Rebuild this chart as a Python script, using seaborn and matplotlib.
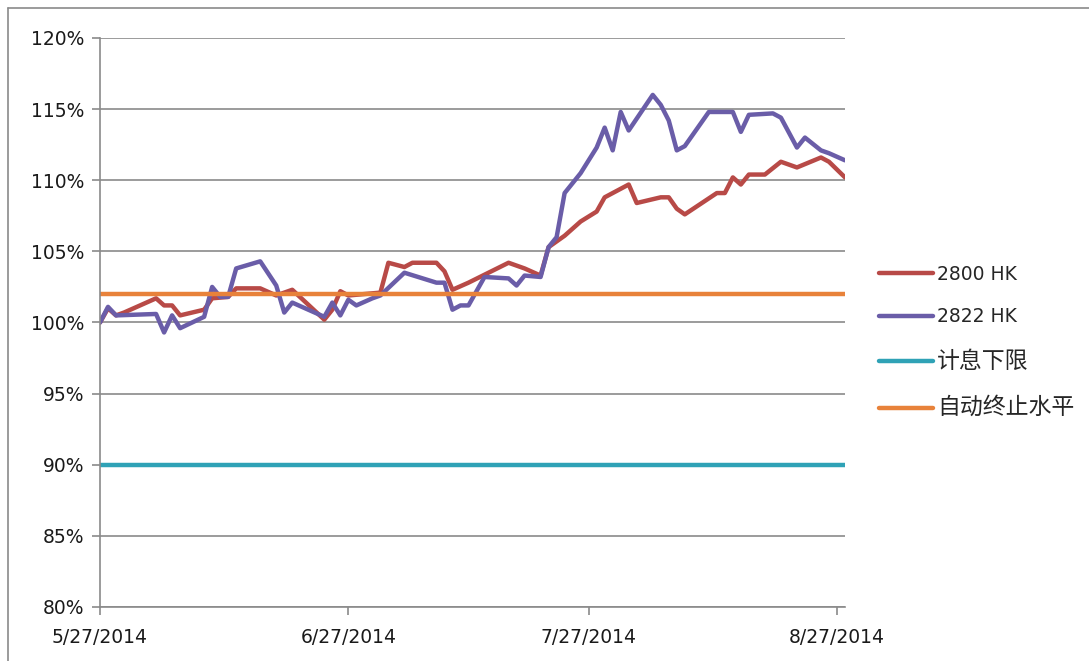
import pandas as pd
import matplotlib
matplotlib.use("Agg")
import matplotlib.pyplot as plt
from matplotlib.lines import Line2D
from matplotlib.ticker import PercentFormatter
import seaborn as sns

START = pd.Timestamp("2014-05-27")
END = pd.Timestamp("2014-08-28")

# days after 5/27/2014 and index level (%)
hk2800_days = [0, 1, 2, 3, 7, 8, 9, 10, 13, 14, 16, 17, 20, 22, 24, 28, 29, 30, 31,
               35, 36, 38, 39, 42, 43, 44, 46, 51, 53, 55, 56, 58, 60, 62, 63, 66,
               67, 70, 71, 72, 73, 77, 78, 79, 80, 81, 83, 85, 87, 90, 91, 93]
hk2800_vals = [100.0, 101.0, 100.5, 100.7, 101.7, 101.2, 101.2, 100.5, 100.9, 101.7,
               101.8, 102.4, 102.4, 101.9, 102.3, 100.2, 100.9, 102.2, 101.9,
               102.1, 104.2, 103.9, 104.2, 104.2, 103.6, 102.3, 102.8, 104.2, 103.8,
               103.3, 105.3, 106.1, 107.1, 107.8, 108.8, 109.7, 108.4, 108.8, 108.8,
               108.0, 107.6, 109.1, 109.1, 110.2, 109.7, 110.4, 110.4, 111.3, 110.9,
               111.6, 111.3, 110.2]

hk2822_days = [0, 1, 2, 7, 8, 9, 10, 13, 14, 15, 16, 17, 20, 22, 23, 24, 28, 29, 30,
               31, 32, 34, 35, 38, 42, 43, 44, 45, 46, 48, 51, 52, 53, 55, 56, 57,
               58, 60, 62, 63, 64, 65, 66, 69, 70, 71, 72, 73, 76, 79, 80, 81, 84,
               85, 87, 88, 90, 91, 93]
hk2822_vals = [100.0, 101.1, 100.5, 100.6, 99.3, 100.5, 99.6, 100.4, 102.5, 101.8,
               101.8, 103.8, 104.3, 102.6, 100.7, 101.4, 100.4, 101.4, 100.5,
               101.6, 101.2, 101.7, 101.9, 103.5, 102.8, 102.8, 100.9, 101.2, 101.2,
               103.2, 103.1, 102.6, 103.3, 103.2, 105.3, 106.0, 109.1, 110.5, 112.3,
               113.7, 112.1, 114.8, 113.5, 116.0, 115.3, 114.2, 112.1, 112.4, 114.8,
               114.8, 113.4, 114.6, 114.7, 114.4, 112.3, 113.0, 112.1, 111.9, 111.4]

coupon_floor = 90      # 计息下限
autocall_level = 102   # 自动终止水平

x_ticks = ["2014-05-27", "2014-06-27", "2014-07-27", "2014-08-27"]
x_tick_labels = ["5/27/2014", "6/27/2014", "7/27/2014", "8/27/2014"]

sns.set_style("white")
plt.rcParams["font.family"] = ["DejaVu Sans", "Noto Sans CJK SC"]

grey = "#8a8a8a"
fig = plt.figure(figsize=(10.89, 6.61), dpi=100)
ax = fig.add_axes([100 / 1089, 54 / 661, 745 / 1089, 569 / 661])

d2800 = START + pd.to_timedelta(hk2800_days, unit="D")
d2822 = START + pd.to_timedelta(hk2822_days, unit="D")
span = [START, END]

sns.lineplot(x=d2800, y=hk2800_vals, ax=ax, color="#B84A47", lw=3.2, label="2800 HK")
sns.lineplot(x=d2822, y=hk2822_vals, ax=ax, color="#6A5DA8", lw=3.2, label="2822 HK")
sns.lineplot(x=span, y=[coupon_floor] * 2, ax=ax, color="#2FA2B6", lw=3.2, label="计息下限")
sns.lineplot(x=span, y=[autocall_level] * 2, ax=ax, color="#E8823A", lw=3.2,
             label="自动终止水平")

ax.set_xlim(START, END)
ax.set_ylim(80, 120)
ax.set_yticks(range(80, 121, 5))
ax.yaxis.set_major_formatter(PercentFormatter(xmax=100, decimals=0))
ax.set_xticks(pd.to_datetime(x_ticks))
ax.set_xticklabels(x_tick_labels)
ax.set_xlabel("")
ax.set_ylabel("")

ax.grid(axis="y", color=grey, lw=1.2)
ax.set_axisbelow(True)
for s in ["top", "right"]:
    ax.spines[s].set_visible(False)
for s in ["left", "bottom"]:
    ax.spines[s].set_color(grey)
    ax.spines[s].set_linewidth(1.2)
ax.tick_params(axis="y", direction="out", length=6, width=1.2, color=grey,
               labelsize=13.5, labelcolor="#1a1a1a", pad=5, left=True)
ax.tick_params(axis="x", direction="out", length=6, width=1.2, color=grey,
               labelsize=13.5, labelcolor="#1a1a1a", pad=9, bottom=True)

leg = ax.legend(loc="upper left", bbox_to_anchor=(862 / 1089, 1 - 248 / 661),
                bbox_transform=fig.transFigure, frameon=False, fontsize=13.5,
                handlelength=2.9, handletextpad=0.2, labelspacing=1.25)
for t in leg.get_texts()[2:]:
    t.set_fontsize(16.5)

# outer chart frame
fig.add_artist(Line2D([8 / 1089, 8 / 1089], [0, 1 - 8 / 661], color=grey, lw=1.2))
fig.add_artist(Line2D([8 / 1089, 1], [1 - 8 / 661, 1 - 8 / 661], color=grey, lw=1.2))

fig.savefig("out.png", dpi=100)
